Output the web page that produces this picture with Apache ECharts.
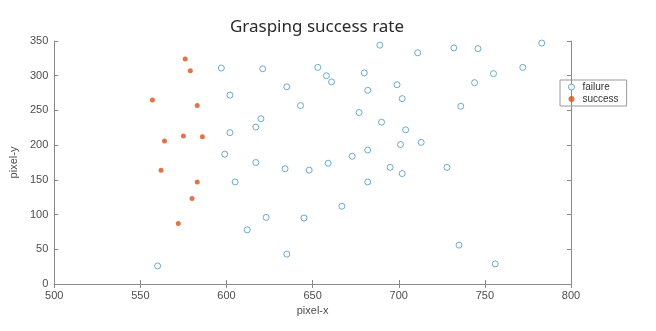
<!DOCTYPE html>
<html>
<head>
<meta charset="utf-8">
<script src="https://cdn.jsdelivr.net/npm/echarts@6/dist/echarts.min.js"></script>
<style>
  html, body { margin: 0; padding: 0; background: #fff; }
  #chart { width: 656px; height: 331px; }
</style>
</head>
<body>
<div id="chart"></div>
<script>
// pixel positions of failed grasps
var failureX = [560, 597, 602, 602, 599, 605, 621, 635, 643, 620, 617, 653, 658, 661, 617, 634, 648, 659,
  623, 612, 645, 635, 695, 702, 728, 682, 667, 735, 756, 689, 711, 732, 746, 783, 772, 755, 744, 736,
  680, 682, 699, 702, 677, 690, 704, 701, 713, 682, 673]
var failureY = [26, 311, 272, 218, 187, 147, 310, 284, 257, 238, 226, 312, 300, 291, 175, 166, 164, 174,
  96, 78, 95, 43, 168, 159, 168, 147, 112, 56, 29, 344, 333, 340, 339, 347, 312, 303, 290, 256,
  304, 279, 287, 267, 247, 233, 222, 201, 204, 193, 184]
// pixel positions of successful grasps
var successX = [576, 579, 557, 583, 564, 575, 586, 562, 583, 580, 572]
var successY = [324, 307, 265, 257, 206, 213, 212, 164, 147, 123, 87]

var xTicks = [500, 550, 600, 650, 700, 750, 800]
var yTicks = [0, 50, 100, 150, 200, 250, 300, 350]

function pairs (xs, ys) {
  var out = []
  for (var i = 0; i < xs.length; i++) {
    out.push([xs[i], ys[i]])
  }
  return out
}

var axisColor = '#8a8a8a'
var labelColor = '#4d4d4d'

var chart = echarts.init(document.getElementById('chart'))
var option = {
  backgroundColor: '#fff',
  animation: false,
  title: {
    text: 'Grasping success rate',
    left: 312,
    textAlign: 'center',
    top: 14,
    textStyle: { fontSize: 17, fontWeight: 'normal', color: '#2a2a2a', fontFamily: 'Noto Sans' }
  },
  legend: {
    left: 560,
    top: 80,
    orient: 'vertical',
    borderColor: '#999',
    borderWidth: 1,
    borderRadius: 0,
    padding: [2, 8, 2, 8],
    itemGap: 2,
    itemWidth: 12,
    itemHeight: 6,
    textStyle: { fontSize: 10, color: '#333', fontFamily: 'Liberation Sans' },
    data: [
      { name: 'failure', itemStyle: { borderWidth: 1 } },
      { name: 'success' }
    ]
  },
  grid: { left: 53, right: 85, top: 41, bottom: 47 },
  xAxis: [
    {
      type: 'value',
      min: xTicks[0],
      max: xTicks[xTicks.length - 1],
      interval: 50,
      name: 'pixel-x',
      nameLocation: 'middle',
      nameGap: 19,
      nameTextStyle: { fontSize: 11, color: labelColor, fontFamily: 'Liberation Sans' },
      axisLine: { lineStyle: { color: axisColor } },
      axisTick: { inside: true, length: 4, lineStyle: { color: axisColor } },
      axisLabel: { fontSize: 11, color: labelColor, margin: 6, fontFamily: 'Liberation Sans' },
      splitLine: { show: false }
    },
    {
      type: 'value',
      position: 'top',
      min: xTicks[0],
      max: xTicks[xTicks.length - 1],
      interval: 50,
      axisLine: { lineStyle: { color: axisColor } },
      axisTick: { inside: true, length: 4, lineStyle: { color: axisColor } },
      axisLabel: { show: false },
      splitLine: { show: false }
    }
  ],
  yAxis: [
    {
      type: 'value',
      min: yTicks[0],
      max: yTicks[yTicks.length - 1],
      interval: 50,
      name: 'pixel-y',
      nameLocation: 'middle',
      nameGap: 27,
      nameTextStyle: { fontSize: 11, color: labelColor, fontFamily: 'Liberation Sans' },
      axisLine: { show: true, lineStyle: { color: axisColor } },
      axisTick: { show: true, inside: true, length: 4, lineStyle: { color: axisColor } },
      axisLabel: { fontSize: 11, color: labelColor, margin: 6, fontFamily: 'Liberation Sans' },
      splitLine: { show: false }
    },
    {
      type: 'value',
      position: 'right',
      min: yTicks[0],
      max: yTicks[yTicks.length - 1],
      interval: 50,
      axisLine: { show: true, lineStyle: { color: axisColor } },
      axisTick: { show: true, inside: true, length: 4, lineStyle: { color: axisColor } },
      axisLabel: { show: false },
      splitLine: { show: false }
    }
  ],
  series: [
    {
      name: 'failure',
      type: 'scatter',
      symbol: 'circle',
      symbolSize: 6,
      itemStyle: { color: '#fff', borderColor: '#4a96c2', borderWidth: 1 },
      data: pairs(failureX, failureY)
    },
    {
      name: 'success',
      type: 'scatter',
      symbol: 'circle',
      symbolSize: 5,
      itemStyle: { color: '#d95319' },
      data: pairs(successX, successY)
    }
  ]
}
chart.setOption(option)
</script>
</body>
</html>
